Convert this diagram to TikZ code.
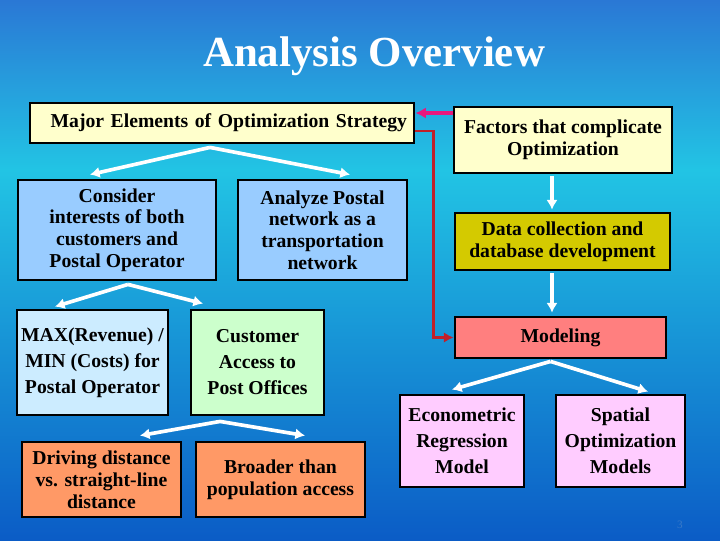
\documentclass[tikz,border=0pt]{standalone}
\usepackage{fontspec}
\setmainfont{Liberation Serif}
\usetikzlibrary{
  arrows.meta,
  calc,
  positioning
}
\definecolor{bgtop}{HTML}{2A78D5}
\definecolor{bgmid}{HTML}{22C4E4}
\definecolor{bgbot}{HTML}{0B5CC6}
\definecolor{paleyellow}{HTML}{FFFFCC}
\definecolor{skyblue}{HTML}{99CCFF}
\definecolor{paleblue}{HTML}{CCECFF}
\definecolor{olive}{HTML}{D4CA00}
\definecolor{palegreen}{HTML}{CCFFCC}
\definecolor{salmon}{HTML}{FF7F7F}
\definecolor{palepink}{HTML}{FFCCFF}
\definecolor{peach}{HTML}{FF9966}
\definecolor{darkred}{HTML}{C0202A}
\definecolor{magenta}{HTML}{E8177D}
\definecolor{pagenum}{HTML}{3A7AC8}
\tikzset{
  box/.style={
    draw=black,
    line width=2pt,
    align=center,
    inner sep=3pt,
    font=\bfseries\fontsize{14}{15.5}\selectfont
  },
  tallbox/.style={box, font=\bfseries\fontsize{14}{18.5}\selectfont},
  headbox/.style={box, fill=paleyellow},
  aimbox/.style={box, fill=skyblue},
  goalbox/.style={tallbox, fill=paleblue},
  accessbox/.style={tallbox, fill=palegreen},
  issuebox/.style={box, fill=peach},
  databox/.style={box, fill=olive},
  modelbox/.style={box, fill=salmon},
  methodbox/.style={tallbox, fill=palepink},
  flow/.style={-{Latex[length=2.4mm, width=2.8mm]}, line width=2.6pt, draw=white},
  redlink/.style={-{Latex[length=2.4mm, width=2.6mm]}, line width=2pt, draw=darkred},
  pinklink/.style={-{Latex[length=2.6mm, width=2.8mm]}, line width=2.4pt, draw=magenta}
}

\begin{document}
\begin{tikzpicture}[x=0.025cm, y=-0.025cm]
  % background
  \useasboundingbox (0,0) rectangle (720,540);
  \shade[top color=bgtop, bottom color=bgmid] (0,0) rectangle (720,170);
  \shade[top color=bgmid, bottom color=bgbot] (0,170) rectangle (720,540);

  \node[text=white, font=\bfseries\fontsize{30.5}{34}\selectfont] (title) at (374,56)
    {Analysis Overview};

  % left tree
  \node[headbox, minimum width=9.6cm, minimum height=1cm, text width=9.25cm,
    align=right] (major) at (222,123) {Major Elements of Optimization Strategy};
  \node[aimbox, minimum width=4.95cm, minimum height=2.5cm] (consider) at (117,230)
    {Consider\\interests of both\\customers and\\Postal Operator};
  \node[aimbox, minimum width=4.225cm, minimum height=2.5cm] (analyze) at (322.5,230)
    {Analyze Postal\\network as a\\transportation\\network};
  \node[goalbox, minimum width=3.775cm, minimum height=2.625cm] (maxrev) at (92.5,362.5)
    {MAX(Revenue) /\\MIN (Costs) for\\Postal Operator};
  \node[accessbox, minimum width=3.325cm, minimum height=2.625cm] (access) at (257.5,362.5)
    {Customer\\Access to\\Post Offices};
  \node[issuebox, minimum width=3.975cm, minimum height=1.875cm] (driving) at (101.5,479.5)
    {Driving distance\\vs. straight-line\\distance};
  \node[issuebox, minimum width=4.225cm, minimum height=1.875cm] (broader) at (280.5,479.5)
    {Broader than\\population access};

  % right column
  \node[headbox, minimum width=5.45cm, minimum height=1.65cm] (factors) at (563,140)
    {Factors that complicate\\Optimization};
  \node[databox, minimum width=5.375cm, minimum height=1.425cm] (data) at (562.5,241.5)
    {Data collection and\\database development};
  \node[modelbox, minimum width=5.275cm, minimum height=1.025cm] (modeling) at (560.5,337.5)
    {Modeling};
  \node[methodbox, minimum width=3.1cm, minimum height=2.3cm] (econ) at (462,441)
    {Econometric\\Regression\\Model};
  \node[methodbox, minimum width=3.225cm, minimum height=2.3cm] (spatial) at (620.5,441)
    {Spatial\\Optimization\\Models};

  \node[text=pagenum, font=\fontsize{8}{9}\selectfont] (page) at (680,525) {3};

  \draw[flow] ([shift={(-12,3)}]major.south) -- ([shift={(-27,-4)}]consider.north);
  \draw[flow] ([shift={(-12,3)}]major.south) -- ([shift={(27.5,-4)}]analyze.north);
  \draw[flow] ([shift={(11,3)}]consider.south) -- ([shift={(-37.5,-2)}]maxrev.north);
  \draw[flow] ([shift={(11,3)}]consider.south) -- ([shift={(-54.5,-5)}]access.north);
  \draw[flow] ([shift={(-37.5,5)}]access.south) -- ([shift={(38.5,-5)}]driving.north);
  \draw[flow] ([shift={(-37.5,5)}]access.south) -- ([shift={(24.5,-5)}]broader.north);
  \draw[flow] ([shift={(-11,2)}]factors.south) -- ([shift={(-10.5,-2)}]data.north);
  \draw[flow] ([shift={(-10.5,2)}]data.south) -- ([shift={(-8.5,-3)}]modeling.north);
  \draw[flow] ([shift={(-10,2)}]modeling.south) -- ([shift={(-10,-4)}]econ.north);
  \draw[flow] ([shift={(-10,2)}]modeling.south) -- ([shift={(27.5,-2)}]spatial.north);

  \draw[redlink] ([shift={(0,8)}]major.east) -- ++(18,0) |- (modeling.west);
  \draw[pinklink] ([shift={(0,-27)}]factors.west) -- ([shift={(0,-10)}]major.east);
\end{tikzpicture}
\end{document}
